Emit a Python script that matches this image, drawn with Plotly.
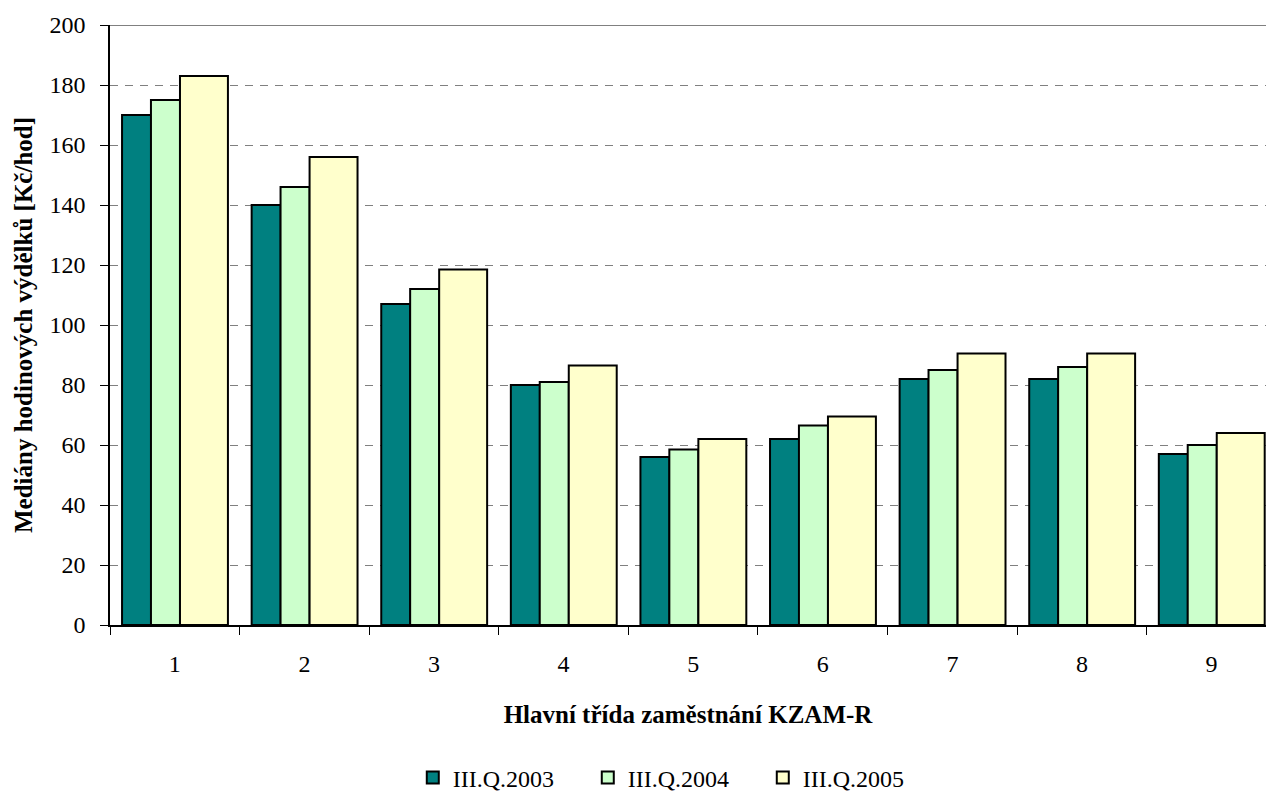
"""Mediány hodinových výdělků podle hlavních tříd KZAM-R."""
import plotly.graph_objects as go

categories = ["1", "2", "3", "4", "5", "6", "7", "8", "9"]
q2003 = [170, 140, 107, 80, 56, 62, 82, 82, 57]
q2004 = [175, 146, 112, 81, 58.5, 66.5, 85, 86, 60]
q2005 = [183, 156, 118.5, 86.5, 62, 69.5, 90.5, 90.5, 64]
y_ticks = list(range(0, 201, 20))

FONT = "Liberation Serif, Times New Roman, serif"
series = [
    ("III.Q.2003", q2003, "#008080", -0.407, 0.224),
    ("III.Q.2004", q2004, "#CCFFCC", -0.184, 0.224),
    ("III.Q.2005", q2005, "#FFFFCC", 0.040, 0.370),
]

fig = go.Figure()
for name, vals, color, off, w in series:
    fig.add_trace(
        go.Bar(
            x=categories,
            y=vals,
            name=name,
            offset=off,
            width=w,
            marker={"color": color, "line": {"color": "black", "width": 2}},
        )
    )

fig.update_layout(
    width=1266,
    height=794,
    barmode="overlay",
    paper_bgcolor="white",
    plot_bgcolor="white",
    margin={"l": 110, "r": 0, "t": 25, "b": 169, "autoexpand": False},
    font={"family": FONT, "color": "black", "size": 24},
    showlegend=True,
    legend={
        "orientation": "h",
        "x": 0.489,
        "xanchor": "center",
        "y": -0.255,
        "yanchor": "middle",
        "font": {"size": 24},
        "entrywidth": 130,
        "entrywidthmode": "pixels",
    },
    xaxis={
        "type": "category",
        "range": [-0.5, 8.42],
        "automargin": False,
        "tickson": "boundaries",
        "ticks": "outside",
        "ticklen": 8,
        "tickcolor": "black",
        "ticklabelstandoff": 16,
        "showline": True,
        "linecolor": "black",
        "linewidth": 1.5,
        "showgrid": False,
        "title": {
            "text": "<b>Hlavní třída zaměstnání KZAM-R</b>",
            "font": {"size": 25},
            "standoff": 30,
        },
    },
    yaxis={
        "range": [0, 200],
        "automargin": False,
        "tickvals": y_ticks,
        "ticks": "outside",
        "ticklen": 8,
        "tickcolor": "black",
        "ticklabelstandoff": 10,
        "showline": True,
        "linecolor": "black",
        "linewidth": 1.5,
        "showgrid": True,
        "gridcolor": "#808080",
        "gridwidth": 1,
        "griddash": "8px,7px",
        "zeroline": False,
        "title": {
            "text": "<b>Mediány hodinových výdělků [Kč/hod]</b>",
            "font": {"size": 25},
            "standoff": 10,
        },
    },
    # inner half of the crossing y ticks
    yaxis2={
        "overlaying": "y",
        "matches": "y",
        "range": [0, 200],
        "automargin": False,
        "tickvals": y_ticks,
        "ticks": "inside",
        "ticklen": 8,
        "tickcolor": "black",
        "showticklabels": False,
        "showgrid": False,
        "zeroline": False,
        "showline": False,
    },
    shapes=[
        {
            "type": "line",
            "xref": "paper", "yref": "y",
            "x0": 0, "x1": 1, "y0": 200, "y1": 200,
            "line": {"color": "#808080", "width": 2},
            "layer": "above",
        }
    ],
)

fig.write_html(
    "out.html",
    config={"displayModeBar": False},
    post_script="document.body.style.margin='0';",
)
